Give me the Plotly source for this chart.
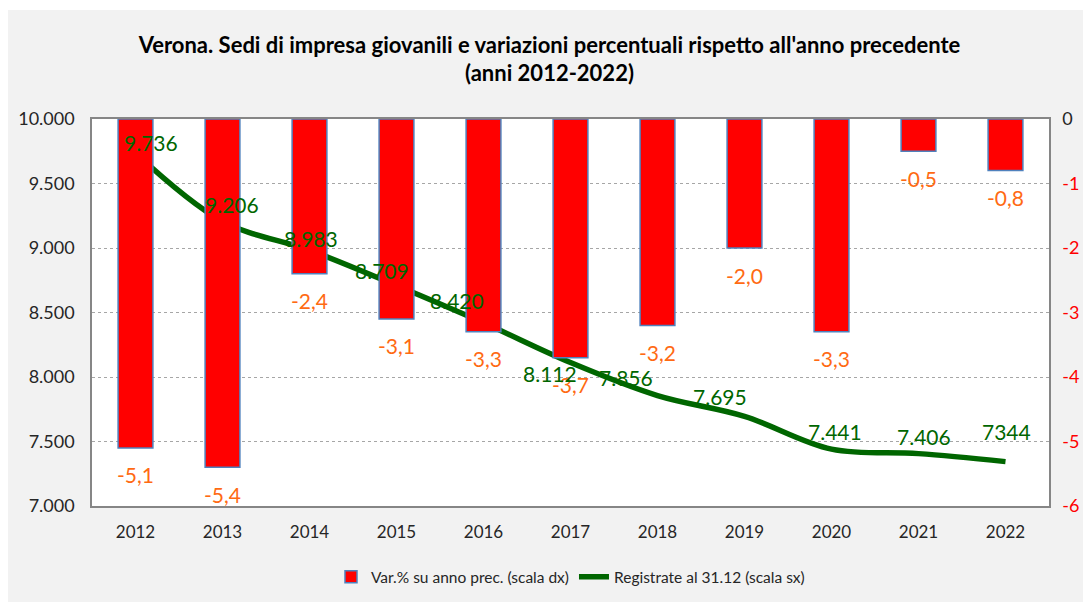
import plotly.graph_objects as go

years = ["2012","2013","2014","2015","2016","2017","2018","2019","2020","2021","2022"]
var_pct = [-5.1,-5.4,-2.4,-3.1,-3.3,-3.7,-3.2,-2.0,-3.3,-0.5,-0.8]
registrate = [9736,9206,8983,8709,8420,8112,7856,7695,7441,7406,7344]
reg_labels = ["9.736","9.206","8.983","8.709","8.420","8.112","7.856","7.695","7.441","7.406","7344"]
var_labels = ["-5,1","-5,4","-2,4","-3,1","-3,3","-3,7","-3,2","-2,0","-3,3","-0,5","-0,8"]
left_ticks = [7000,7500,8000,8500,9000,9500,10000]
left_ticktext = ["7.000","7.500","8.000","8.500","9.000","9.500","10.000"]
right_ticks = [0,-1,-2,-3,-4,-5,-6]

# label offsets (pixels) for line labels
lab_dx = [15,9,1,-15,-27,-21,-32,-25,3,5,1]
lab_dy = [11,17,12,15,22,-11,18,20,18,17,30]

RED = "#FF0000"
GREEN = "#006600"
ORANGE = "#FF6A13"
FONT = "Lato, Carlito, Calibri, sans-serif"

fig = go.Figure()
fig.add_trace(go.Bar(
    x=years, y=var_pct, yaxis="y2", name="Var.% su anno prec. (scala dx)",
    marker=dict(color=RED, line=dict(color="#4F81BD", width=1.5)),
    width=0.4,
))
fig.add_trace(go.Scatter(
    x=years, y=registrate, yaxis="y", name="Registrate al 31.12 (scala sx)",
    mode="lines", line=dict(color=GREEN, width=5.5, shape="spline", smoothing=1.0),
))

ann = []
for i, y in enumerate(years):
    ann.append(dict(x=i, y=var_pct[i], xref="x", yref="y2", text=var_labels[i],
                    showarrow=False, yshift=-27,
                    font=dict(family=FONT, size=21, color=ORANGE)))
    ann.append(dict(x=i, y=registrate[i], xref="x", yref="y", text=reg_labels[i],
                    showarrow=False, xshift=lab_dx[i], yshift=lab_dy[i],
                    font=dict(family=FONT, size=21, color=GREEN)))

right_text = ["0"] + ["<span style='color:#FF0000'>%d</span>" % v for v in right_ticks[1:]]

fig.update_layout(
    width=1083, height=594,
    margin=dict(l=84, r=42, t=111, b=96, autoexpand=False),
    paper_bgcolor="#F2F2F2", plot_bgcolor="#FFFFFF",
    title=dict(text="<b>Verona. Sedi di impresa giovanili e variazioni percentuali rispetto all'anno precedente<br>(anni 2012-2022)</b>",
               x=0.5, xanchor="center", y=0.925, yanchor="middle",
               font=dict(family=FONT, size=22, color="#000000")),
    xaxis=dict(type="category", showline=True, linecolor="#868686", linewidth=1.5, mirror=True,
               ticks="", tickfont=dict(family=FONT, size=17, color="#262626"),
               showgrid=False, range=[-0.5, 10.5], ticklabelstandoff=10),
    xaxis2=dict(overlaying="x", side="top", range=[-0.5, 10.5], tickvals=[k + 0.5 for k in range(10)],
                ticks="inside", ticklen=6, tickcolor="#868686", tickwidth=1.2,
                showticklabels=False, showgrid=False, zeroline=False, showline=False),
    yaxis=dict(range=[7000,10000], tickvals=left_ticks, ticktext=left_ticktext, showline=True,
               linecolor="#868686", linewidth=1.5, gridcolor="#A6A6A6", griddash="dot", gridwidth=1,
               tickfont=dict(family=FONT, size=18, color="#262626"),
               ticks="", zeroline=False, ticklabelstandoff=12),
    yaxis2=dict(range=[-6,0], overlaying="y", side="right", tickvals=right_ticks, ticktext=right_text,
                showgrid=False, zeroline=False, showline=True, linecolor="#868686", linewidth=1.5,
                tickfont=dict(family=FONT, size=18, color="#262626"), ticklabelstandoff=8),
    legend=dict(orientation="h", x=0.5, xanchor="center", y=-0.14, yanchor="top",
                bgcolor="rgba(0,0,0,0)",
                font=dict(family=FONT, size=15.5, color="#262626")),
    annotations=ann,
    shapes=[
        dict(type="rect", xref="paper", yref="paper", x0=-1, x1=2, y0=1+(111-2)/387, y1=2,
             fillcolor="#FFFFFF", line=dict(width=0), layer="above"),
    ],
)
fig.write_html("out.html")
